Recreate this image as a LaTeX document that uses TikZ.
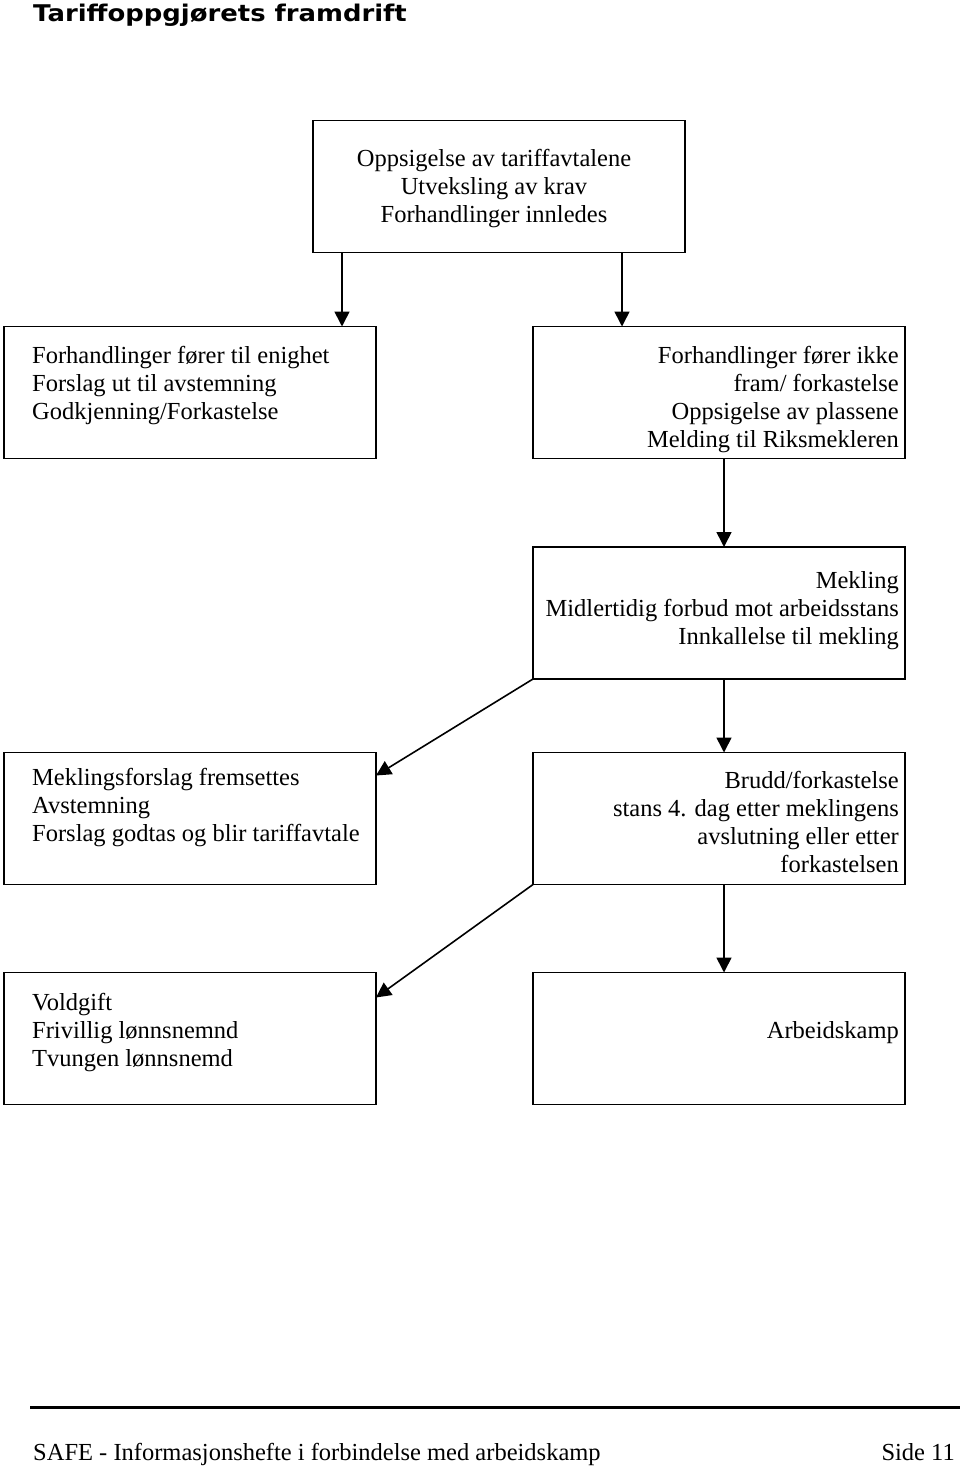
\documentclass[tikz,border=0pt]{standalone}
\usepackage{fontspec}
\setmainfont{Liberation Serif}
\newfontfamily\titlefont{DejaVu Sans}
\usetikzlibrary{arrows.meta,calc}
\begin{document}
\begin{tikzpicture}[x=1pt,y=-1pt,
  box/.style={draw,line width=1.6pt,inner sep=0pt,outer sep=0pt,minimum width=372pt,minimum height=132pt},
  txt/.style={inner sep=0pt,font=\fontsize{24.5}{28}\selectfont},
  arr/.style={line width=1.6pt,-{Triangle[width=15pt,length=15pt]}}]
\useasboundingbox (0,0) rectangle (960,1469);
\node[anchor=base west,inner sep=0pt,font=\titlefont\bfseries\fontsize{23}{25}\selectfont] (title) at (33,22) {\scalebox{1.125}[1]{Tariffoppgjørets framdrift}};
% boxes
\node[box] (b1) at (499,186.5) {};
\node[box] (b2) at (190,392.5) {};
\node[box] (b3) at (719,392.5) {};
\node[box] (b4) at (719,613) {};
\node[box] (b5) at (190,818.5) {};
\node[box] (b6) at (719,818.5) {};
\node[box] (b7) at (190,1038.5) {};
\node[box] (b8) at (719,1038.5) {};
% texts
\node[txt,align=center] (t1) at (494,189) {Oppsigelse av tariffavtalene\\Utveksling av krav\\Forhandlinger innledes};
\node[txt,align=left,anchor=west] (t2) at (32,386) {Forhandlinger fører til enighet\\Forslag ut til avstemning\\Godkjenning/Forkastelse};
\node[txt,align=right,anchor=east] (t3) at (899,400) {Forhandlinger fører ikke\\fram/ forkastelse\\Oppsigelse av plassene\\Melding til Riksmekleren};
\node[txt,align=right,anchor=east] (t4) at (899,611) {Mekling\\Midlertidig forbud mot arbeidsstans\\Innkallelse til mekling};
\node[txt,align=left,anchor=west] (t5) at (32,808) {Meklingsforslag fremsettes\\Avstemning\\Forslag godtas og blir tariffavtale};
\node[txt,align=right,anchor=east] (t6) at (899,822) {Brudd/forkastelse\\stans 4. dag etter meklingens\\avslutning eller etter\\forkastelsen};
\node[txt,align=left,anchor=west] (t7) at (32,1033) {Voldgift\\Frivillig lønnsnemnd\\Tvungen lønnsnemd};
\node[txt,align=right,anchor=east] (t8) at (899,1033) {Arbeidskamp};
% arrows
\draw[arr] ([xshift=29pt]b1.south west) -- ([xshift=29pt]b1.south west |- b2.north);
\draw[arr] ([xshift=309pt]b1.south west) -- ([xshift=309pt]b1.south west |- b3.north);
\draw[arr] ([xshift=191pt]b3.south west) -- ([xshift=191pt]b3.south west |- b4.north);
\draw[arr] ([xshift=191pt]b4.south west) -- ([xshift=191pt]b4.south west |- b6.north);
\draw[arr] ([xshift=191pt]b6.south west) -- ([xshift=191pt]b6.south west |- b8.north);
\draw[arr] (b4.south west) -- ([yshift=-23pt]b5.north east);
\draw[arr] (b6.south west) -- ([yshift=-25pt]b7.north east);
% footer
\coordinate (fl) at (30,1407);
\coordinate (fr) at (960,1407);
\draw[line width=3pt] (fl) -- (fr);
\node[anchor=base west,inner sep=0pt,font=\fontsize{24.5}{28}\selectfont] (foot) at (33,1460) {SAFE - Informasjonshefte i forbindelse med arbeidskamp};
\node[anchor=base east,inner sep=0pt,font=\fontsize{24.5}{28}\selectfont] (side) at (955,1460) {Side 11};
\end{tikzpicture}
\end{document}
